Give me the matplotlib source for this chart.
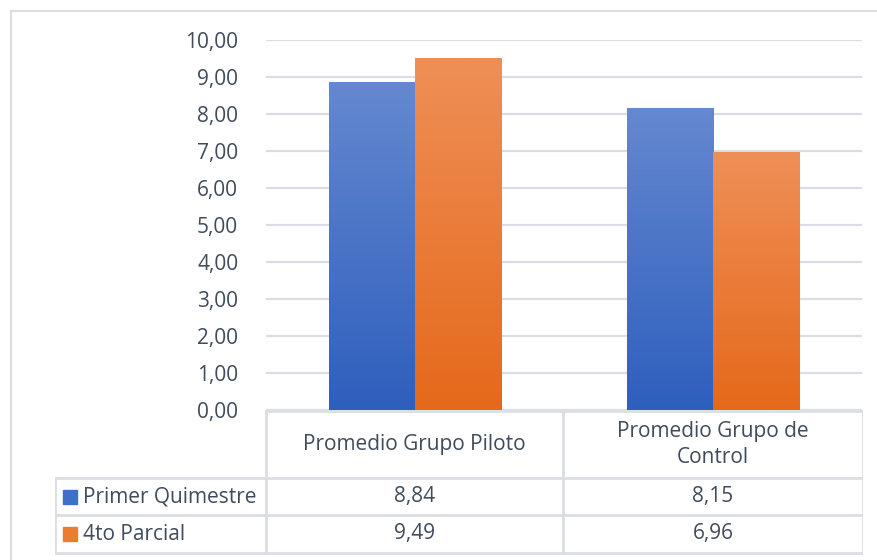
import numpy as np
import matplotlib.pyplot as plt
from matplotlib.colors import LinearSegmentedColormap

plt.rcParams['font.family'] = ['Open Sans', 'DejaVu Sans']

# datos
categorias = ['Promedio Grupo Piloto', 'Promedio Grupo de\nControl']
series = ['Primer Quimestre', '4to Parcial']
primer_quimestre = [8.84, 8.15]
cuarto_parcial = [9.49, 6.96]
yticks = np.arange(0, 11, 1)

texto = '#404b5b'
borde = '#dadee4'
# gradientes tipo Excel (claro arriba, oscuro abajo)
grad_azul = LinearSegmentedColormap.from_list('azul', ['#2e5fbd', '#6588d0'])
grad_naranja = LinearSegmentedColormap.from_list('naranja', ['#e5691a', '#ef8f57'])
base_azul = '#3f6fc8'
base_naranja = '#ec7c30'
fs = 15

fig = plt.figure(figsize=(8.77, 5.60), dpi=100)
W, H = 877, 560

def fx(px):
    return px / W

def fy(py):
    return 1 - py / H

# marco exterior (solo izquierda y arriba visibles)
fig.add_artist(plt.Line2D([fx(11), fx(11)], [fy(11), 0], color=borde, lw=1.5))
fig.add_artist(plt.Line2D([fx(11), 1], [fy(11), fy(11)], color=borde, lw=1.5))

# --- grafico de barras ---
ax = fig.add_axes([fx(266), fy(410), fx(862) - fx(266), fy(40) - fy(410)])
x = np.arange(len(categorias))
ancho = 0.29
barras1 = ax.bar(x - ancho / 2, primer_quimestre, ancho, color=base_azul, zorder=2)
barras2 = ax.bar(x + ancho / 2, cuarto_parcial, ancho, color=base_naranja, zorder=2)

grad = np.linspace(0, 1, 256).reshape(-1, 1)
for barras, cmap in [(barras1, grad_azul), (barras2, grad_naranja)]:
    for b in barras:
        x0, w, h = b.get_x(), b.get_width(), b.get_height()
        ax.imshow(grad, cmap=cmap, aspect='auto', origin='lower',
                  extent=[x0, x0 + w, 0, h], zorder=3)

ax.set_xlim(-0.5, len(categorias) - 0.5)
ax.set_ylim(0, 10)
ax.set_yticks(yticks)
ax.set_yticklabels([f'{v:.2f}'.replace('.', ',') for v in yticks], color=texto, fontsize=fs)
ax.tick_params(axis='y', length=0, pad=20)
ax.set_xticks([])
ax.yaxis.grid(True, color=borde, lw=1.6, zorder=0)
ax.set_axisbelow(True)
for s in ax.spines.values():
    s.set_visible(False)

# --- tabla de datos ---
tx = fig.add_axes([fx(55), 0, fx(863) - fx(55), 1], facecolor='none')
tx.set_xlim(55, 863)
tx.set_ylim(H, 0)
tx.axis('off')

col_x = [55, 266, 563, 863]
fila_y = [411, 478, 515, 553]
lc = dict(color=borde, lw=2, solid_capstyle='projecting')

tx.plot([266, 863], [411, 411], **lc)
for yy in fila_y[1:]:
    tx.plot([55, 863], [yy, yy], **lc)
for xx in col_x[1:]:
    tx.plot([xx, xx], [411, 553], **lc)
tx.plot([55, 55], [478, 553], **lc)

centros = [(col_x[i + 1] + col_x[i + 2]) / 2 for i in range(len(categorias))]
for cx, cat in zip(centros, categorias):
    tx.text(cx, (411 + 478) / 2, cat, ha='center', va='center', color=texto,
            fontsize=fs, linespacing=1.3)

valores = [primer_quimestre, cuarto_parcial]
colores = [base_azul, base_naranja]
for i, (nombre, vals, c) in enumerate(zip(series, valores, colores)):
    yc = (fila_y[i + 1] + fila_y[i + 2]) / 2
    tx.add_patch(plt.Rectangle((63, yc - 7), 14, 14, color=c))
    tx.text(83, yc, nombre, ha='left', va='center', color=texto, fontsize=fs)
    for cx, v in zip(centros, vals):
        tx.text(cx, yc, f'{v:.2f}'.replace('.', ','), ha='center', va='center',
                color=texto, fontsize=fs)

fig.savefig('out.png', dpi=100, facecolor='white')
